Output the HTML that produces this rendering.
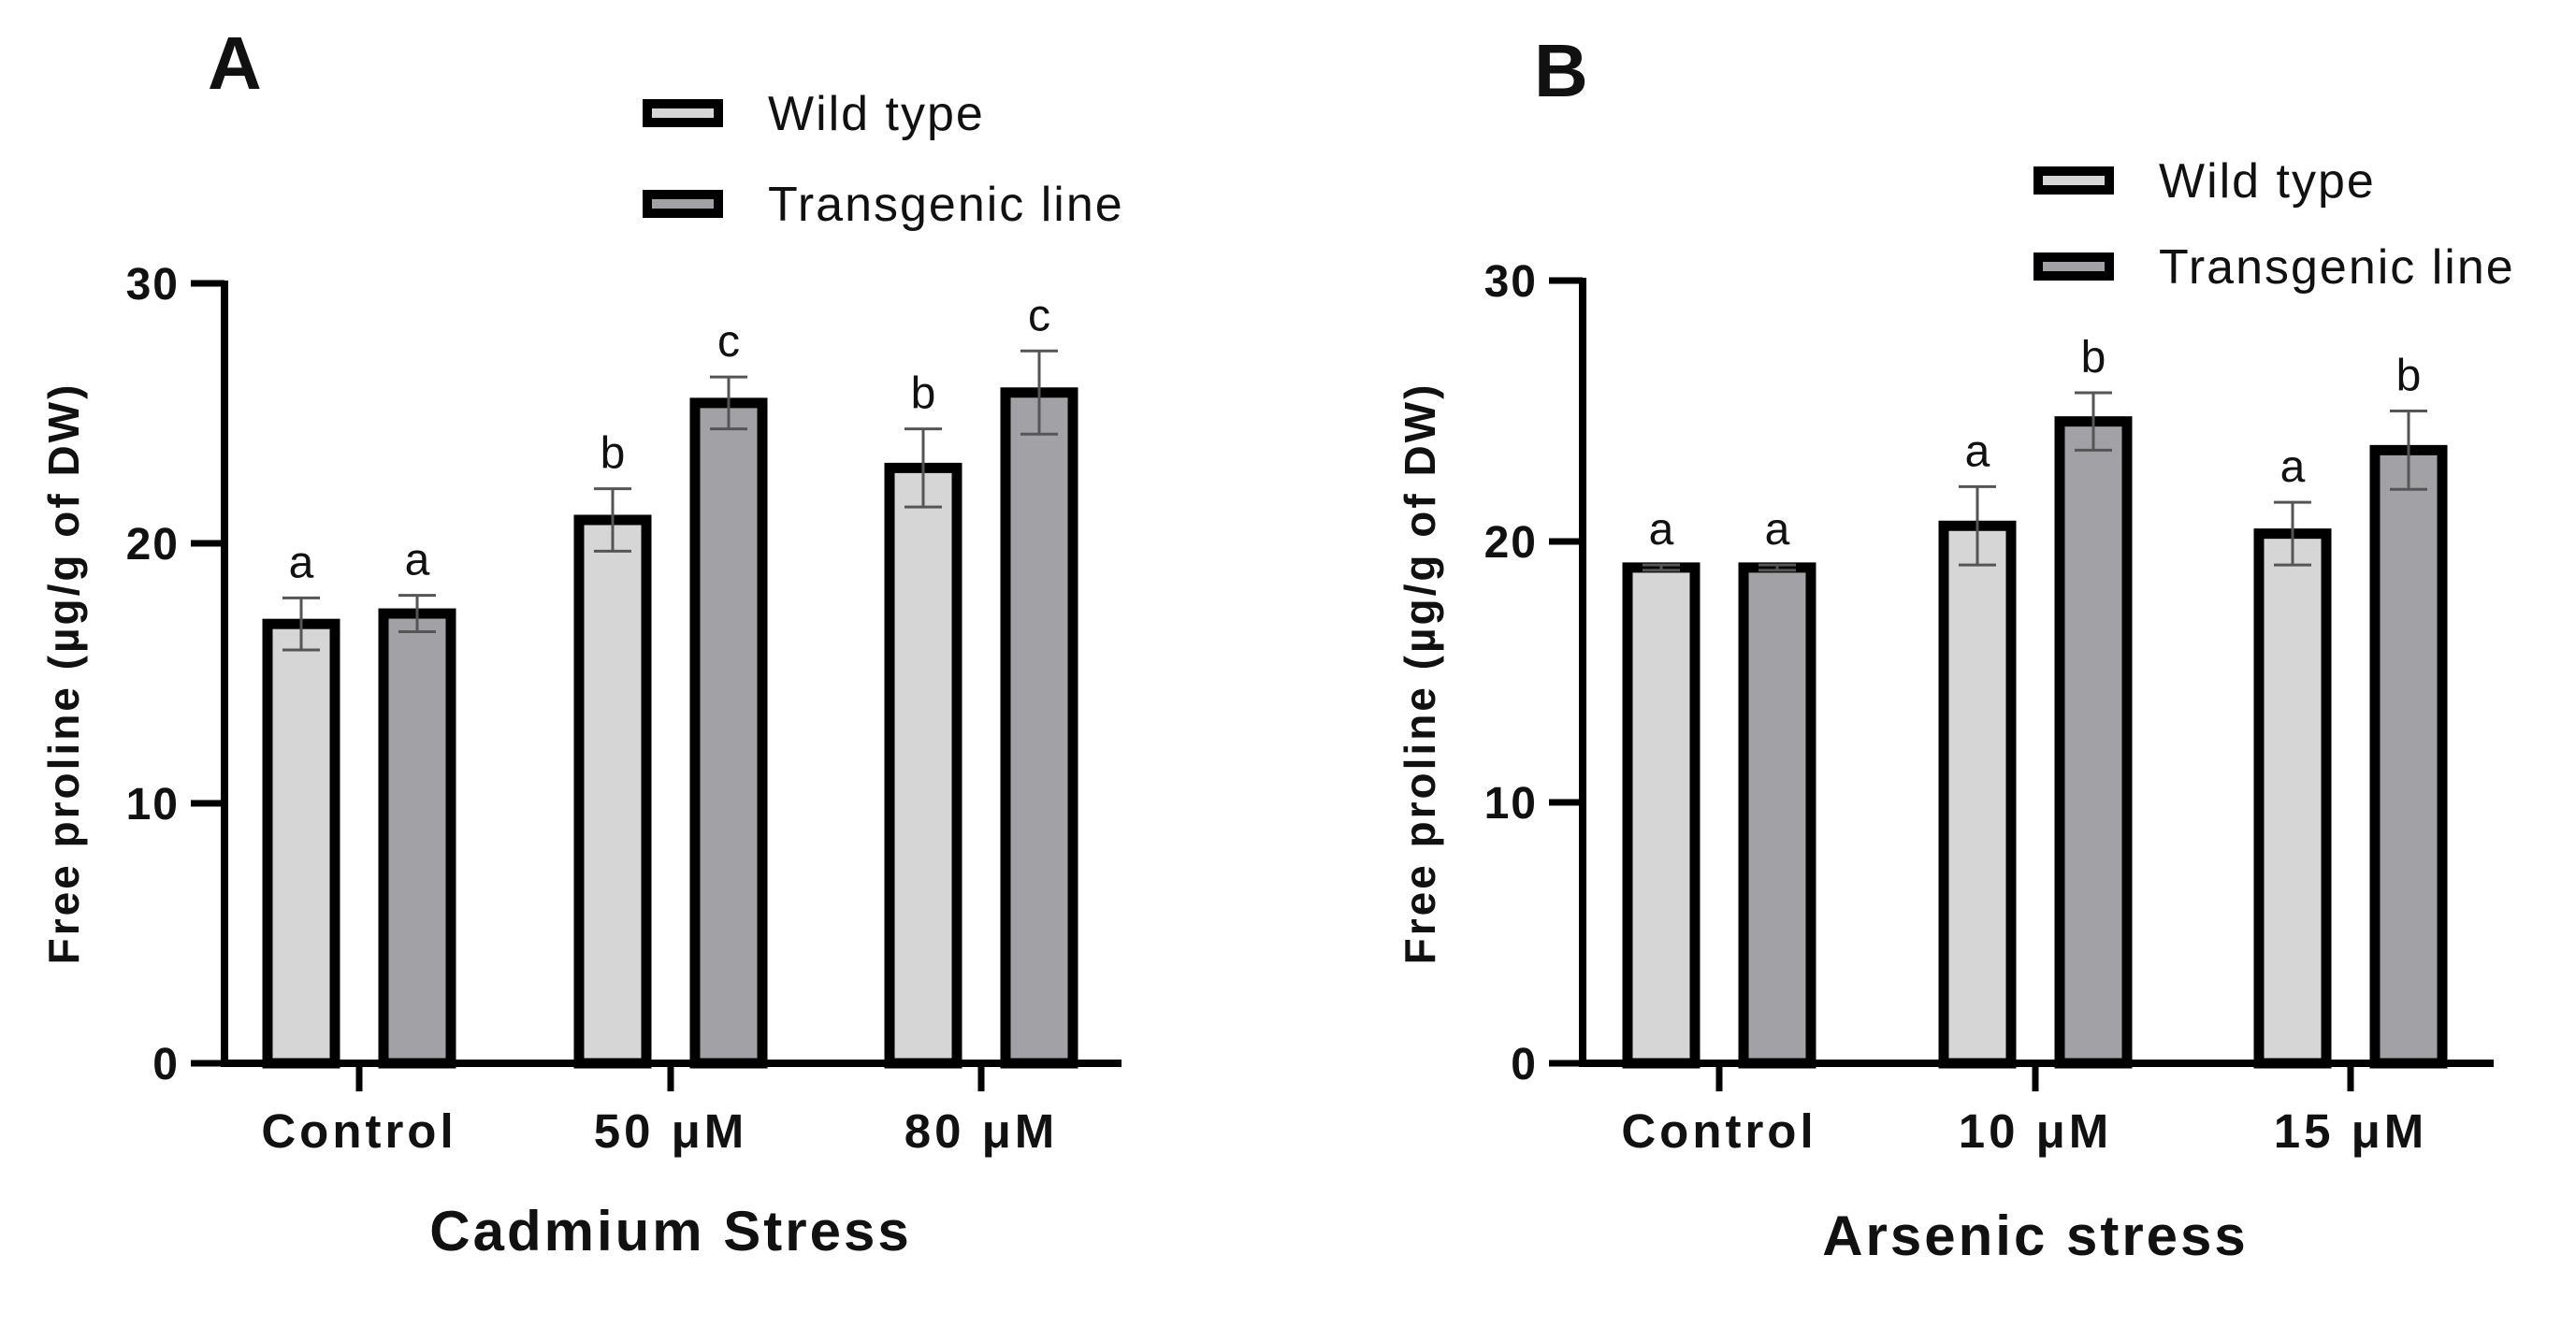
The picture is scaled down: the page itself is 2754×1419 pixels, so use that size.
<!DOCTYPE html>
<html><head><meta charset="utf-8"><style>
html,body{margin:0;padding:0;background:#fff}
svg{display:block}
text{font-family:"Liberation Sans",Arial,sans-serif;fill:#111}
</style></head><body>
<svg id="fig" width="2754" height="1419" viewBox="0 0 2754 1419" xmlns="http://www.w3.org/2000/svg"></svg>
<script>
const categoriesA = ["Control", "50 \u03bcM", "80 \u03bcM"];
const wildA = [16.9, 20.9, 22.9];
const wildErrA = [1.0, 1.2, 1.5];
const transA = [17.3, 25.4, 25.8];
const transErrA = [0.7, 1.0, 1.6];
const wildLetA = ["a", "b", "b"];
const transLetA = ["a", "c", "c"];

const categoriesB = ["Control", "10 \u03bcM", "15 \u03bcM"];
const wildB = [19.0, 20.6, 20.3];
const wildErrB = [0.1, 1.5, 1.2];
const transB = [19.0, 24.6, 23.5];
const transErrB = [0.1, 1.1, 1.5];
const wildLetB = ["a", "a", "a"];
const transLetB = ["a", "b", "b"];

const yTicks = [0, 10, 20, 30];

const NS = "http://www.w3.org/2000/svg";
const svg = document.getElementById("fig");
function mk(tag, attrs, parent, txt){
  const e = document.createElementNS(NS, tag);
  for (const k in attrs) e.setAttribute(k, attrs[k]);
  if (txt !== undefined) e.textContent = txt;
  (parent || svg).appendChild(e);
  return e;
}

function panel(p){
  const g = mk("g", {});
  
  
  const yS = v => p.y0 + (p.y30 - p.y0) * v / 30;
  const L = mk("text", {x:p.letterX, y:p.letterY, "font-size":80, "font-weight":"bold"}, g, p.letter);
  
  
  const leg = [["Wild type", "#d6d6d6", p.legY1], ["Transgenic line", "#a2a2a6", p.legY2]];
  leg.forEach(([t, c, y]) => {
    const r = mk("rect", {x:p.legX+5, y:y-10, width:76, height:20, fill:c, stroke:"#000", "stroke-width":10}, g);
    
    
    const tx = mk("text", {x:p.legX+134, y:y+18, "font-size":52, "letter-spacing":2}, g, t);
    
    
  });
  const ya = mk("line", {x1:p.ax, y1:p.y30-3, x2:p.ax, y2:p.y0+4, stroke:"#000", "stroke-width":8}, g);
  
  
  yTicks.forEach(v => {
    const y = yS(v);
    const tk = mk("line", {x1:p.ax-36, y1:y, x2:p.ax, y2:y, stroke:"#000", "stroke-width":7}, g);
    
    
    const tl = mk("text", {x:p.ax-48, y:y+17, "font-size":48, "font-weight":"bold", "letter-spacing":2, "text-anchor":"end"}, g, String(v));
    
    
  });
  const yt = mk("text", {x:0, y:0, "font-size":46, "font-weight":"bold", "letter-spacing":3, "text-anchor":"middle",
    transform:`translate(${p.ytX},${p.ytY}) rotate(-90)`}, g, "Free proline (\u00b5g/g of DW)");
  
  
  const bw = 72;
  p.cats.forEach((c, i) => {
    const cx = p.xc[i];
    [[p.wild, p.wErr, p.wLet, "#d6d6d6", -62, "wild"], [p.trans, p.tErr, p.tLet, "#a2a2a6", 62, "transgenic"]].forEach(([vals, errs, lets, fill, off, nm]) => {
      const x = cx + off - bw/2, top = yS(vals[i]);
      const b = mk("rect", {x:x, y:top, width:bw, height:p.y0 - top, fill:fill, stroke:"#000", "stroke-width":11}, g);
      
      
      const eT = yS(vals[i] + errs[i]), eB = yS(vals[i] - errs[i]), ex = cx + off;
      const eb = mk("path", {d:`M${ex},${eT}V${eB}M${ex-20},${eT}H${ex+20}M${ex-20},${eB}H${ex+20}`, stroke:"#555", "stroke-width":3, fill:"none"}, g);
      
      
      const lt = mk("text", {x:ex, y:eT-22, "font-size":48, "text-anchor":"middle"}, g, lets[i]);
      
      
    });
  });
  const xa = mk("line", {x1:p.ax-4, y1:p.y0, x2:p.axEnd, y2:p.y0, stroke:"#000", "stroke-width":8}, g);
  
  
  p.cats.forEach((c, i) => {
    const tk = mk("line", {x1:p.xc[i], y1:p.y0, x2:p.xc[i], y2:p.y0+30, stroke:"#000", "stroke-width":7}, g);
    
    
    const tl = mk("text", {x:p.xc[i], y:p.y0+90, "font-size":51, "font-weight":"bold", "letter-spacing":4, "text-anchor":"middle"}, g, c);
    
    
  });
  const xt = mk("text", {x:p.xtX, y:p.xtY, "font-size":60, "font-weight":"bold", "letter-spacing":3, "text-anchor":"middle"}, g, p.xTitle);
  
  
}

panel({name:"panel-a-cadmium", letter:"A", letterX:222, letterY:95,
  legX:687, legY1:121, legY2:218,
  ax:240, axEnd:1199, y0:1137, y30:303, xc:[384,717,1049],
  ytX:84, ytY:720, xtX:717, xtY:1337, xTitle:"Cadmium Stress",
  cats:categoriesA, wild:wildA, wErr:wildErrA, trans:transA, tErr:transErrA, wLet:wildLetA, tLet:transLetA});

panel({name:"panel-b-arsenic", letter:"B", letterX:1640, letterY:103,
  legX:2174, legY1:193, legY2:285,
  ax:1692, axEnd:2666, y0:1137, y30:300, xc:[1838,2176,2513],
  ytX:1534, ytY:720, xtX:2176, xtY:1342, xTitle:"Arsenic stress",
  cats:categoriesB, wild:wildB, wErr:wildErrB, trans:transB, tErr:transErrB, wLet:wildLetB, tLet:transLetB});
</script>
</body></html>
